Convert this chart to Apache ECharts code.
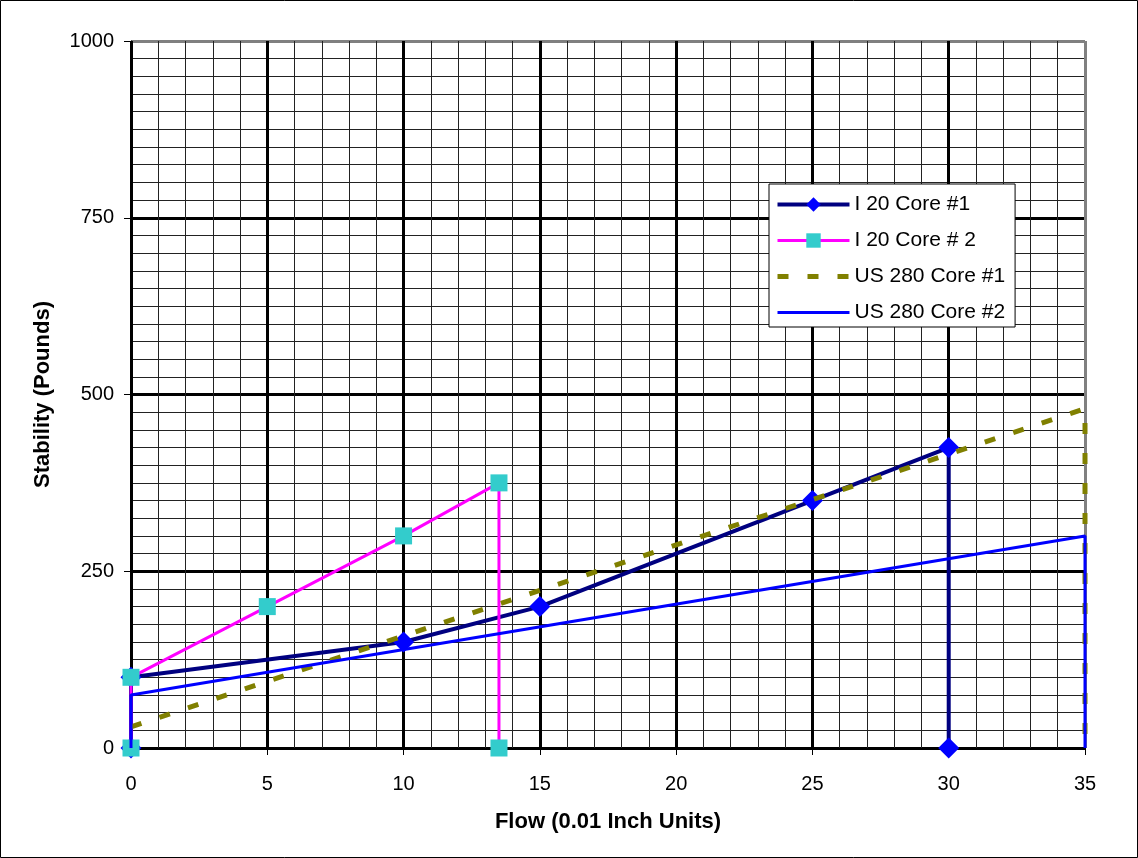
<!DOCTYPE html>
<html>
<head>
<meta charset="utf-8">
<script src="https://cdn.jsdelivr.net/npm/echarts@6/dist/echarts.min.js"></script>
<style>
html,body{margin:0;padding:0;background:#fff;}
#c{width:1138px;height:858px;}
</style>
</head>
<body>
<div id="c"></div>
<script>
// ---- data ----
const seriesNames = ['I 20 Core #1', 'I 20 Core # 2', 'US 280 Core #1', 'US 280 Core #2'];
const i20core1X = [0, 0, 10, 15, 25, 30, 30];
const i20core1Y = [0, 100, 150, 200, 350, 425, 0];
const i20core2X = [0, 0, 5, 10, 13.5, 13.5];
const i20core2Y = [0, 100, 200, 300, 375, 0];
const us280core1X = [0, 35, 35];
const us280core1Y = [30, 480, 0];
const us280core2X = [0, 0, 35, 35];
const us280core2Y = [0, 75, 300, 0];
const xTicks = [0, 5, 10, 15, 20, 25, 30, 35];
const yTicks = [0, 250, 500, 750, 1000];

function pairs(xs, ys) { return xs.map((x, i) => [x, ys[i]]); }

const FONT = '"Liberation Sans", Arial, sans-serif';
const chart = echarts.init(document.getElementById('c'), null, { renderer: 'canvas' });

const xMajorColors = xTicks.map((t, i) => i === xTicks.length - 1 ? '#808080' : '#000');
const yMajorColors = yTicks.map((t, i) => i === yTicks.length - 1 ? '#808080' : '#000');

const styles = [
  { line: { color: '#000080', width: 4, type: 'solid' }, item: { color: '#0000FF' }, symbol: 'diamond', size: 21 },
  { line: { color: '#FF00FF', width: 3, type: 'solid' }, item: { color: '#33CCCC' }, symbol: 'rect', size: 17 },
  { line: { color: '#808000', width: 5, type: [11, 19] }, item: { color: '#808000' }, symbol: 'none', size: 0 },
  { line: { color: '#0000FF', width: 3, type: 'solid' }, item: { color: '#0000FF' }, symbol: 'none', size: 0 }
];
const seriesData = [
  pairs(i20core1X, i20core1Y),
  pairs(i20core2X, i20core2Y),
  pairs(us280core1X, us280core1Y),
  pairs(us280core2X, us280core2Y)
];

chart.setOption({
  animation: false,
  backgroundColor: '#fff',
  textStyle: { fontFamily: FONT },
  graphic: [{
    type: 'rect',
    shape: { x: 0.5, y: 0.5, width: 1137, height: 857 },
    style: { fill: 'none', stroke: '#000', lineWidth: 1 },
    silent: true
  }],
  grid: { left: 131, right: 53, top: 41, bottom: 110, containLabel: false },
  xAxis: {
    type: 'value', min: xTicks[0], max: xTicks[xTicks.length - 1], interval: 5,
    name: 'Flow (0.01 Inch Units)', nameLocation: 'middle', nameGap: 63,
    nameTextStyle: { fontFamily: FONT, fontSize: 22, fontWeight: 'bold', color: '#000' },
    axisLine: { show: true, onZero: false, lineStyle: { color: '#000', width: 1 } },
    axisTick: { show: true, inside: false, length: 7, lineStyle: { color: '#000' } },
    axisLabel: { fontFamily: FONT, fontSize: 20, color: '#000', margin: 26, formatter: v => String(v) },
    splitLine: { show: true, lineStyle: { color: xMajorColors, width: 3 } },
    minorTick: { show: false, splitNumber: 5 },
    minorSplitLine: { show: true, lineStyle: { color: '#222', width: 1 } }
  },
  yAxis: {
    type: 'value', min: yTicks[0], max: yTicks[yTicks.length - 1], interval: 250,
    name: 'Stability (Pounds)', nameLocation: 'middle', nameGap: 77, nameRotate: 90,
    nameTextStyle: { fontFamily: FONT, fontSize: 22, fontWeight: 'bold', color: '#000' },
    axisLine: { show: true, lineStyle: { color: '#000', width: 1 } },
    axisTick: { show: true, inside: false, length: 7, lineStyle: { color: '#000' } },
    axisLabel: { fontFamily: FONT, fontSize: 20, color: '#000', margin: 17, formatter: v => String(v) },
    splitLine: { show: true, lineStyle: { color: yMajorColors, width: 3 } },
    minorTick: { show: false, splitNumber: 10 },
    minorSplitLine: { show: true, lineStyle: { color: '#222', width: 1 } }
  },
  legend: {
    left: 769, top: 184, orient: 'vertical',
    backgroundColor: '#fff', borderColor: '#000', borderWidth: 1,
    padding: [10, 10, 4, 6], itemWidth: 72, itemHeight: 18, itemGap: 15,
    textStyle: { fontFamily: FONT, fontSize: 21, color: '#000' },
    data: seriesNames.map((n, i) => ({
      name: n,
      lineStyle: { width: styles[i].line.width, color: styles[i].line.color, type: styles[i].line.type },
      itemStyle: styles[i].symbol === 'none'
        ? { color: 'rgba(0,0,0,0)', opacity: 0, borderWidth: 0 }
        : { color: styles[i].item.color }
    }))
  },
  series: seriesNames.map((n, i) => ({
    name: n, type: 'line', data: seriesData[i],
    lineStyle: styles[i].line,
    itemStyle: styles[i].item,
    symbol: styles[i].symbol, symbolSize: styles[i].size, showAllSymbol: true,
    z: 2 + i
  }))
});
</script>
</body>
</html>
